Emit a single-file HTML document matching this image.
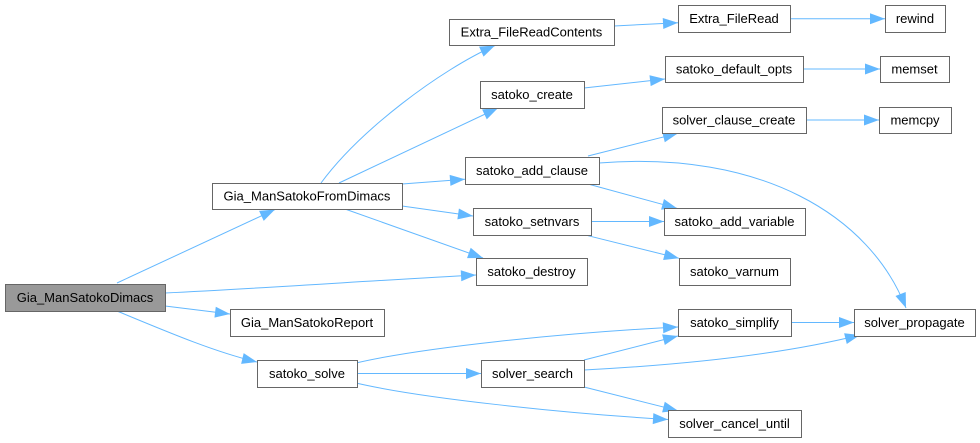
<!DOCTYPE html>
<html><head><meta charset="utf-8"><style>
html,body{margin:0;padding:0;background:#fff;}
svg{display:block;}
text{font-family:"Liberation Sans",Arial,sans-serif;font-size:13px;fill:#000;text-anchor:middle;}
.b{fill:#fff;stroke:#666;stroke-width:1;}
.e{fill:none;stroke:#63b8ff;stroke-width:1;}
</style></head><body>
<svg width="980" height="443" viewBox="0 0 980 443" xmlns="http://www.w3.org/2000/svg">
<defs>
<marker id="a" markerUnits="userSpaceOnUse" markerWidth="16" markerHeight="12" refX="15" refY="5.5" orient="auto" overflow="visible">
<path d="M0,0 L15,5.5 L0,11 z" fill="#63b8ff"/>
</marker>
</defs>
<g marker-end="url(#a)">
<path class="e" d="M117,283 L275,209.5"/>
<path class="e" d="M165,293 C270,288 380,280 476,275"/>
<path class="e" d="M165,306 L230,314"/>
<path class="e" d="M117,311 C170,333 215,352 257,362"/>
<path class="e" d="M321,183 C360,130 440,70 495,45.5"/>
<path class="e" d="M339,183 L498,108"/>
<path class="e" d="M402,184 L465,179.3"/>
<path class="e" d="M402,206 L473,216"/>
<path class="e" d="M345,209 L483,258"/>
<path class="e" d="M614,26 L678,22.7"/>
<path class="e" d="M790.7,18.7 L885,18.7"/>
<path class="e" d="M584,88 L665,79"/>
<path class="e" d="M803,69 L880,69"/>
<path class="e" d="M806,120 L879,120"/>
<path class="e" d="M588,156 L678,133.3"/>
<path class="e" d="M588,184 L677,208.3"/>
<path class="e" d="M599,163 C760,150 870,215 906,308"/>
<path class="e" d="M591,221.5 L664,221.5"/>
<path class="e" d="M588,235.7 L679,258.3"/>
<path class="e" d="M791,322.5 L854,322.5"/>
<path class="e" d="M356,363 C420,348 560,333 678,327"/>
<path class="e" d="M357,373.5 L481,373.5"/>
<path class="e" d="M356,383 C420,398 560,413 668,419.5"/>
<path class="e" d="M584,360 L678,336"/>
<path class="e" d="M584,370 C680,365 780,355 860,335"/>
<path class="e" d="M584,387 L678,410.7"/>
</g>

<rect x="5.5" y="284.5" width="160" height="27" fill="#999" stroke="#666"/>
<text x="85" y="302">Gia_ManSatokoDimacs</text>

<rect class="b" x="212.5" y="183.5" width="190" height="26"/>
<text x="307" y="200.5">Gia_ManSatokoFromDimacs</text>

<rect class="b" x="230.5" y="309.5" width="154" height="27"/>
<text x="307" y="327">Gia_ManSatokoReport</text>

<rect class="b" x="257.5" y="360.5" width="100" height="27"/>
<text x="307" y="378">satoko_solve</text>

<rect class="b" x="449.5" y="19.5" width="165" height="26"/>
<text x="531.5" y="36.5">Extra_FileReadContents</text>

<rect class="b" x="480.5" y="81.5" width="104" height="27"/>
<text x="532" y="99">satoko_create</text>

<rect class="b" x="465.5" y="157.5" width="134" height="27"/>
<text x="532" y="175">satoko_add_clause</text>

<rect class="b" x="473.5" y="208.5" width="118" height="27"/>
<text x="532" y="226">satoko_setnvars</text>

<rect class="b" x="476.5" y="258.5" width="111" height="27"/>
<text x="531.5" y="276">satoko_destroy</text>

<rect class="b" x="481.5" y="360.5" width="103" height="27"/>
<text x="532.5" y="378">solver_search</text>

<rect class="b" x="678.5" y="5.5" width="112" height="27"/>
<text x="734" y="23">Extra_FileRead</text>

<rect class="b" x="665.5" y="56.5" width="138" height="26"/>
<text x="734" y="73.5">satoko_default_opts</text>

<rect class="b" x="662.5" y="107.5" width="144" height="26"/>
<text x="734" y="124.5">solver_clause_create</text>

<rect class="b" x="664.5" y="208.5" width="141" height="27"/>
<text x="734.5" y="226">satoko_add_variable</text>

<rect class="b" x="679.5" y="258.5" width="111" height="27"/>
<text x="734.5" y="276">satoko_varnum</text>

<rect class="b" x="678.5" y="309.5" width="113" height="27"/>
<text x="734.5" y="327">satoko_simplify</text>

<rect class="b" x="668.5" y="410.5" width="133" height="27"/>
<text x="734.5" y="428">solver_cancel_until</text>

<rect class="b" x="885.5" y="5.5" width="60" height="27"/>
<text x="915" y="23">rewind</text>

<rect class="b" x="880.5" y="56.5" width="69" height="26"/>
<text x="914.5" y="73.5">memset</text>

<rect class="b" x="879.5" y="107.5" width="72" height="26"/>
<text x="915" y="124.5">memcpy</text>

<rect class="b" x="854.5" y="309.5" width="121" height="27"/>
<text x="914.5" y="327">solver_propagate</text>
</svg>
</body></html>
